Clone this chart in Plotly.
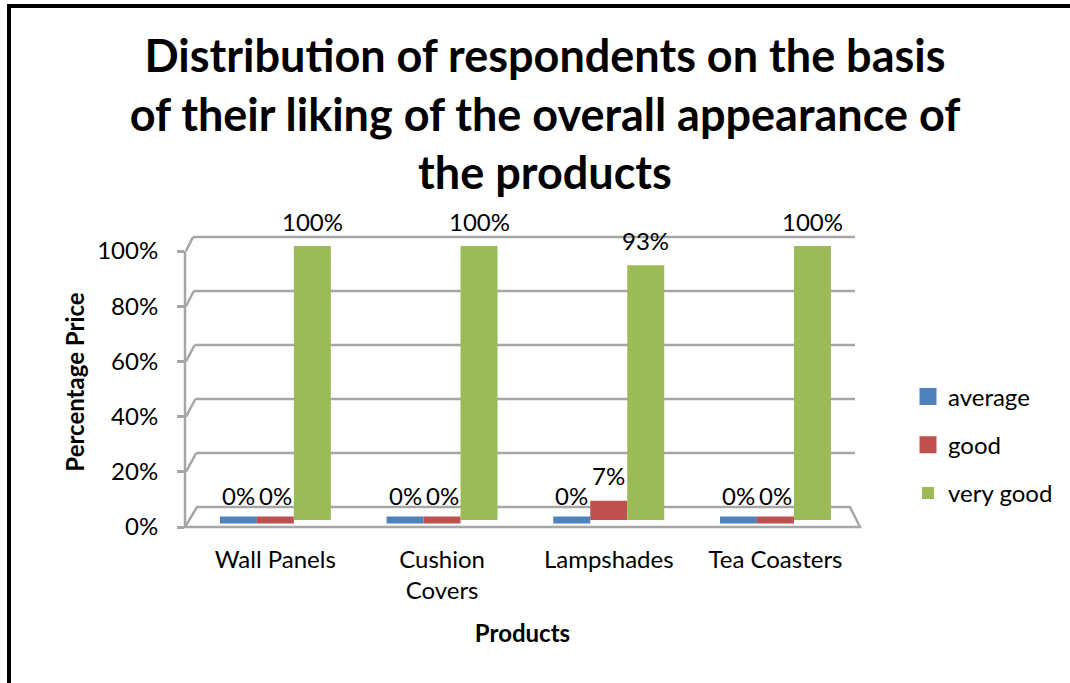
import plotly.graph_objects as go

# ---------------- data ----------------
categories = ["Wall Panels", "Cushion Covers", "Lampshades", "Tea Coasters"]
tick_labels = ["Wall Panels", "Cushion<br>Covers", "Lampshades", "Tea Coasters"]
series_names = ["average", "good", "very good"]
average = [0, 0, 0, 0]
good = [0, 0, 7, 0]
very_good = [100, 100, 93, 100]
y_ticks = [0, 20, 40, 60, 80, 100]
y_tick_labels = ["0%", "20%", "40%", "60%", "80%", "100%"]

# ---------------- style ----------------
colors = ["#4F81BD", "#C0504D", "#9BBB59"]
FONT = "Lato"
GRID = "#a6a6a6"
FS = 24

# plot area in pixels
L, R, T, B = 185, 860, 237, 527
CAT_PX = 166.7                      # pixels per category
X0 = -0.5 - (192.0 - L) / CAT_PX    # left edge of x range
X1 = X0 + (R - L) / CAT_PX
W = 37 / CAT_PX                     # bar width in category units

# y scales: bars (middle depth), front labels, back wall
Y_BAR = [-(B - 520) / 2.74, (520 - T) / 2.74]
Y_FRONT = [0, (B - T) / 2.76]
Y_BACK = [-(B - 507) / 2.70, (507 - T) / 2.70]


def xp(px):
    return (px - L) / (R - L)


def yp(py):
    return (B - py) / (B - T)


def y_on(rng, v):
    return (v - rng[0]) / (rng[1] - rng[0])


fig = go.Figure()

all_series = [average, good, very_good]
xs = list(range(len(categories)))
for j, (name, vals) in enumerate(zip(series_names, all_series)):
    fig.add_trace(go.Bar(
        x=xs, y=vals, name=name, width=W, offset=(j - 1.5) * W,
        marker=dict(color=colors[j],
                    line=dict(color=colors[j],
                              width=[7 if v == 0 else 0 for v in vals])),
        legendgroup=name,
        hovertext=[f"{c}: {v}%" for c, v in zip(categories, vals)],
        hoverinfo="text",
    ))
    for i, v in enumerate(vals):
        fig.add_annotation(x=i + (j - 1) * W, y=v, xref="x", yref="y",
                           text=f"{v}%", showarrow=False, yshift=25,
                           font=dict(family=FONT, size=FS, color="black"))

shapes = []
# floor (trapezoid)
shapes.append(dict(type="path", xref="paper", yref="paper", layer="below",
                   path=(f"M{xp(185)},{yp(527)} L{xp(860)},{yp(527)} "
                         f"L{xp(850)},{yp(507)} L{xp(197)},{yp(507)} Z"),
                   line=dict(color=GRID, width=2.5), fillcolor="rgba(0,0,0,0)"))
# front vertical axis
shapes.append(dict(type="line", xref="paper", yref="paper", layer="below",
                   x0=xp(185), x1=xp(185), y0=y_on(Y_FRONT, 0), y1=y_on(Y_FRONT, 100),
                   line=dict(color=GRID, width=2.5)))
# back wall gridlines + connectors
for v in y_ticks[1:]:
    xb = 197 - 0.04 * v
    shapes.append(dict(type="line", xref="paper", yref="paper", layer="below",
                       x0=xp(xb), x1=xp(855), y0=y_on(Y_BACK, v), y1=y_on(Y_BACK, v),
                       line=dict(color=GRID, width=2.5)))
    shapes.append(dict(type="line", xref="paper", yref="paper", layer="below",
                       x0=xp(186), x1=xp(xb), y0=y_on(Y_FRONT, v), y1=y_on(Y_BACK, v),
                       line=dict(color=GRID, width=2.5)))
# outer border (top and left)
shapes.append(dict(type="path", xref="paper", yref="paper", layer="above",
                   path=f"M{xp(9)},{yp(700)} L{xp(9)},{yp(6)} L{xp(1080)},{yp(6)}",
                   line=dict(color="black", width=4)))

fig.update_layout(
    width=1070, height=683, autosize=False,
    margin=dict(l=L, r=1070 - R, t=T, b=683 - B, autoexpand=False),
    paper_bgcolor="white", plot_bgcolor="rgba(0,0,0,0)",
    font=dict(family=FONT, size=FS, color="black"),
    barmode="overlay",
    title=dict(
        text="<b>Distribution of respondents on the basis<br>of their liking of the overall appearance of<br>the products</b>",
        x=545 / 1070, xanchor="center", y=1 - 72 / 683, yanchor="middle",
        font=dict(family=FONT, size=45, color="black"),
    ),
    xaxis=dict(range=[X0, X1], tickmode="array", tickvals=xs, ticktext=tick_labels,
               showgrid=False, zeroline=False, showline=False, ticks="",
               tickfont=dict(size=FS), ticklabelstandoff=16, automargin=False,
               title=dict(text="<b>Products</b>", font=dict(size=FS), standoff=21)),
    yaxis=dict(range=Y_BAR, showgrid=False, zeroline=False, showticklabels=False,
               ticks="", showline=False, automargin=False),
    yaxis2=dict(range=Y_FRONT, overlaying="y", side="left", anchor="x",
                tickmode="array", tickvals=y_ticks, ticktext=y_tick_labels,
                showgrid=False, zeroline=False, showline=False, automargin=False,
                ticks="outside", ticklen=7, tickwidth=2.5, tickcolor=GRID,
                tickfont=dict(size=FS), ticklabelstandoff=14,
                title=dict(text="<b>Percentage Price</b>", font=dict(size=FS), standoff=5)),
    yaxis3=dict(range=Y_BACK, overlaying="y", visible=False),
    legend=dict(x=xp(908), y=yp(445), xanchor="left", yanchor="middle",
                traceorder="grouped", tracegroupgap=14,
                font=dict(size=FS), bgcolor="rgba(0,0,0,0)"),
    shapes=shapes,
)
# invisible traces so yaxis2 / yaxis3 are drawn
fig.add_trace(go.Scatter(x=[None], y=[None], yaxis="y2", showlegend=False, hoverinfo="skip"))
fig.add_trace(go.Scatter(x=[None], y=[None], yaxis="y3", showlegend=False, hoverinfo="skip"))

fig.write_html("out.html")
